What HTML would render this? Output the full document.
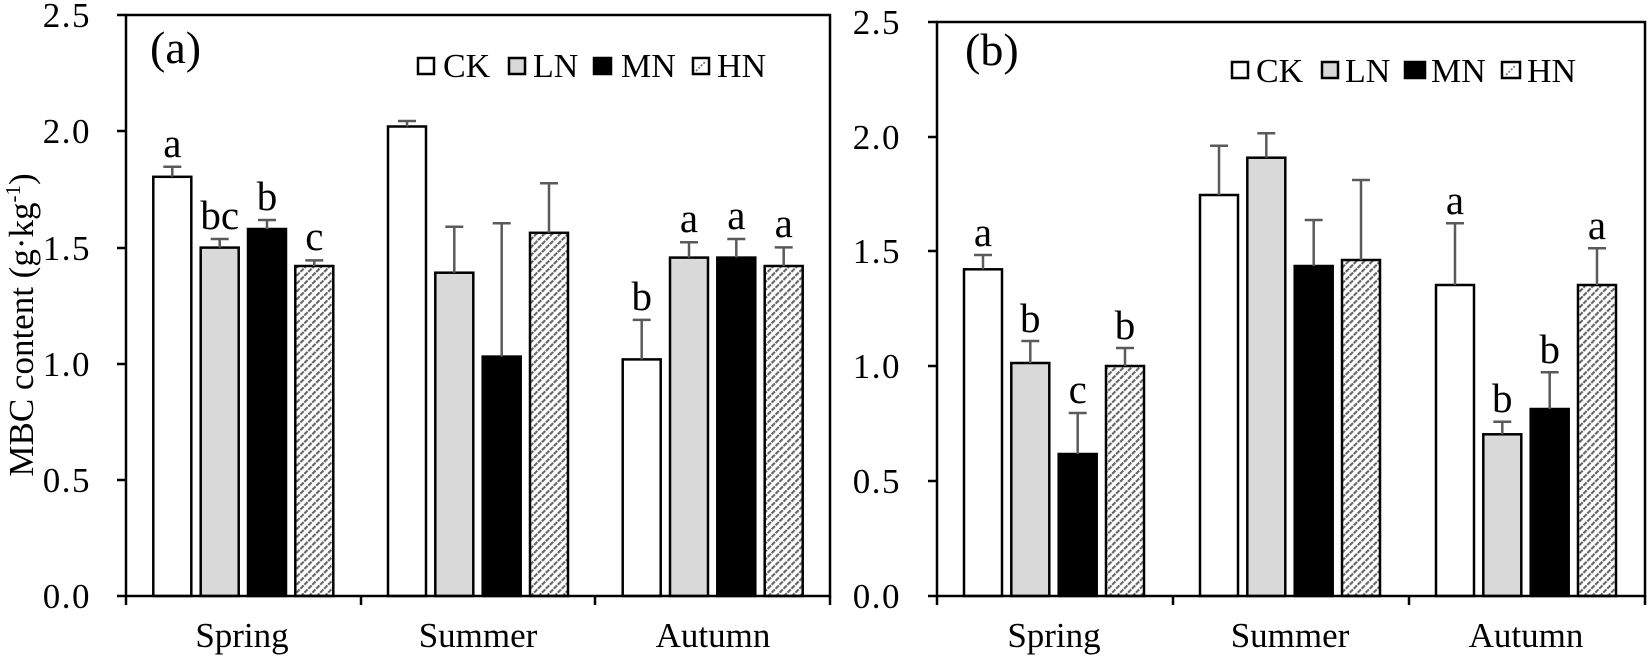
<!DOCTYPE html>
<html><head><meta charset="utf-8">
<style>
html,body{margin:0;padding:0;background:#fff;}
svg{display:block;}
text{font-family:"Liberation Serif","Times New Roman",serif;fill:#000;}
</style></head>
<body>
<svg width="1650" height="659" viewBox="0 0 1650 659" xmlns="http://www.w3.org/2000/svg">
<defs>
<pattern id="h" width="5.6" height="5.6" patternUnits="userSpaceOnUse" patternTransform="rotate(45)">
<rect width="5.6" height="5.6" fill="#fff"/>
<line x1="1.5" y1="0" x2="1.5" y2="5.6" stroke="#5e5e5e" stroke-width="2.1" stroke-dasharray="2.2 1.1"/>
</pattern>
</defs>
<rect width="1650" height="659" fill="#fff"/>

<!-- ============ LEFT CHART (a) ============ -->
<g>
<g stroke="#000" stroke-width="2.5">
<rect x="153.3" y="176.8" width="38" height="419.2" fill="#fff"/>
<rect x="200.7" y="247.6" width="38" height="348.4" fill="#d9d9d9"/>
<rect x="248.0" y="229.0" width="38" height="367" fill="#000"/>
<rect x="295.3" y="266.0" width="38" height="330" fill="url(#h)"/>
<rect x="388.0" y="126.5" width="38" height="469.5" fill="#fff"/>
<rect x="435.3" y="272.7" width="38" height="323.3" fill="#d9d9d9"/>
<rect x="482.7" y="356.6" width="38" height="239.4" fill="#000"/>
<rect x="530.0" y="232.8" width="38" height="363.2" fill="url(#h)"/>
<rect x="622.7" y="359.4" width="38" height="236.6" fill="#fff"/>
<rect x="670.0" y="257.6" width="38" height="338.4" fill="#d9d9d9"/>
<rect x="717.3" y="257.6" width="38" height="338.4" fill="#000"/>
<rect x="764.7" y="266.0" width="38" height="330" fill="url(#h)"/>
</g>
<g stroke="#5a5a5a" stroke-width="2.5" fill="none">
<path d="M172.3 176.8V166.8M163.3 166.8H181.3"/>
<path d="M219.7 247.6V239.0M210.7 239.0H228.7"/>
<path d="M267.0 229.0V220.0M258.0 220.0H276.0"/>
<path d="M314.3 266.0V260.4M305.3 260.4H323.3"/>
<path d="M407.0 126.5V121.0M398.0 121.0H416.0"/>
<path d="M454.3 272.7V226.7M445.3 226.7H463.3"/>
<path d="M501.7 356.6V223.2M492.7 223.2H510.7"/>
<path d="M549.0 232.8V183.3M540.0 183.3H558.0"/>
<path d="M641.7 359.4V319.9M632.7 319.9H650.7"/>
<path d="M689.0 257.6V242.3M680.0 242.3H698.0"/>
<path d="M736.3 257.6V239.0M727.3 239.0H745.3"/>
<path d="M783.7 266.0V247.4M774.7 247.4H792.7"/>
</g>
<g font-size="41" text-anchor="middle">
<text x="172.3" y="157">a</text>
<text x="219.7" y="229">bc</text>
<text x="267.0" y="210">b</text>
<text x="314.3" y="250">c</text>
<text x="641.7" y="310">b</text>
<text x="689.0" y="232">a</text>
<text x="736.3" y="229">a</text>
<text x="783.7" y="237">a</text>
</g>
<g stroke="#000" stroke-width="2.5" fill="none">
<rect x="126" y="15" width="704" height="581"/>
<path d="M126 596V605M361 596V605M595 596V605M830 596V605"/>
<path d="M117 15H126M117 131H126M117 248H126M117 364H126M117 480H126M117 596H126"/>
</g>
<g font-size="35" text-anchor="end" letter-spacing="1.5">
<text x="91" y="27">2.5</text>
<text x="91" y="143">2.0</text>
<text x="91" y="260">1.5</text>
<text x="91" y="376">1.0</text>
<text x="91" y="492">0.5</text>
<text x="91" y="608">0.0</text>
</g>
<g font-size="35" text-anchor="middle">
<text x="242" y="647">Spring</text>
<text x="478" y="647">Summer</text>
<text x="713" y="647">Autumn</text>
</g>
<text x="150" y="63" font-size="46">(a)</text>
<g stroke="#000" stroke-width="2.5">
<rect x="418" y="58" width="16" height="16" fill="#fff"/>
<rect x="509" y="58" width="16" height="16" fill="#d9d9d9"/>
<rect x="594" y="58" width="17" height="16" fill="#000"/>
<rect x="693" y="58" width="16" height="16" fill="#fff"/>
</g>
<line x1="696" y1="71" x2="706" y2="61" stroke="#777" stroke-width="1.8" stroke-dasharray="2 1.5"/>
<g font-size="34">
<text x="443" y="77">CK</text>
<text x="533" y="77">LN</text>
<text x="621" y="77">MN</text>
<text x="717" y="77">HN</text>
</g>
<text transform="translate(33,325) rotate(-90)" font-size="35" text-anchor="middle">MBC content (g·kg<tspan font-size="21" dy="-13">-1</tspan><tspan dy="13">)</tspan></text>
</g>

<!-- ============ RIGHT CHART (b) ============ -->
<g>
<g stroke="#000" stroke-width="2.5">
<rect x="964" y="269.3" width="38" height="326.7" fill="#fff"/>
<rect x="1011.3" y="363" width="38" height="233" fill="#d9d9d9"/>
<rect x="1058.7" y="454" width="38" height="142" fill="#000"/>
<rect x="1106" y="366" width="38" height="230" fill="url(#h)"/>
<rect x="1200" y="195" width="38" height="401" fill="#fff"/>
<rect x="1247.3" y="157.7" width="38" height="438.3" fill="#d9d9d9"/>
<rect x="1294.7" y="266" width="38" height="330" fill="#000"/>
<rect x="1342" y="260" width="38" height="336" fill="url(#h)"/>
<rect x="1436" y="285" width="38" height="311" fill="#fff"/>
<rect x="1483.3" y="434.3" width="38" height="161.7" fill="#d9d9d9"/>
<rect x="1530.7" y="409" width="38" height="187" fill="#000"/>
<rect x="1578" y="285" width="38" height="311" fill="url(#h)"/>
</g>
<g stroke="#5a5a5a" stroke-width="2.5" fill="none">
<path d="M983 269.3V255M974 255H992"/>
<path d="M1030.3 363V341M1021.3 341H1039.3"/>
<path d="M1077.7 454V413M1068.7 413H1086.7"/>
<path d="M1125 366V348M1116 348H1134"/>
<path d="M1219 195V145.7M1210 145.7H1228"/>
<path d="M1266.3 157.7V133.3M1257.3 133.3H1275.3"/>
<path d="M1313.7 266V220M1304.7 220H1322.7"/>
<path d="M1361 260V180M1352 180H1370"/>
<path d="M1455 285V223.3M1446 223.3H1464"/>
<path d="M1502.3 434.3V421.7M1493.3 421.7H1511.3"/>
<path d="M1549.7 409V372.3M1540.7 372.3H1558.7"/>
<path d="M1597 285V248.3M1588 248.3H1606"/>
</g>
<g font-size="41" text-anchor="middle">
<text x="983" y="246">a</text>
<text x="1030.3" y="332">b</text>
<text x="1077.7" y="403">c</text>
<text x="1125" y="339">b</text>
<text x="1455" y="214">a</text>
<text x="1502.3" y="412">b</text>
<text x="1549.7" y="363">b</text>
<text x="1597" y="239">a</text>
</g>
<g stroke="#000" stroke-width="2.5" fill="none">
<rect x="937" y="22" width="708" height="574"/>
<path d="M937 596V605M1173 596V605M1409 596V605M1645 596V605"/>
<path d="M928 22H937M928 137H937M928 251H937M928 366H937M928 481H937M928 596H937"/>
</g>
<g font-size="35" text-anchor="end" letter-spacing="1.5">
<text x="901" y="34">2.5</text>
<text x="901" y="149">2.0</text>
<text x="901" y="263">1.5</text>
<text x="901" y="378">1.0</text>
<text x="901" y="493">0.5</text>
<text x="901" y="608">0.0</text>
</g>
<g font-size="35" text-anchor="middle">
<text x="1054" y="647">Spring</text>
<text x="1290" y="647">Summer</text>
<text x="1526" y="647">Autumn</text>
</g>
<text x="965" y="65" font-size="46">(b)</text>
<g stroke="#000" stroke-width="2.5">
<rect x="1232" y="62" width="16" height="16" fill="#fff"/>
<rect x="1322" y="62" width="16" height="16" fill="#d9d9d9"/>
<rect x="1405" y="62" width="20" height="16" fill="#000"/>
<rect x="1502" y="62" width="18" height="16" fill="#fff"/>
</g>
<line x1="1506" y1="75" x2="1516" y2="65" stroke="#777" stroke-width="1.8" stroke-dasharray="2 1.5"/>
<g font-size="34">
<text x="1256" y="82">CK</text>
<text x="1345" y="82">LN</text>
<text x="1431" y="82">MN</text>
<text x="1527" y="82">HN</text>
</g>
</g>
</svg>
</body></html>
